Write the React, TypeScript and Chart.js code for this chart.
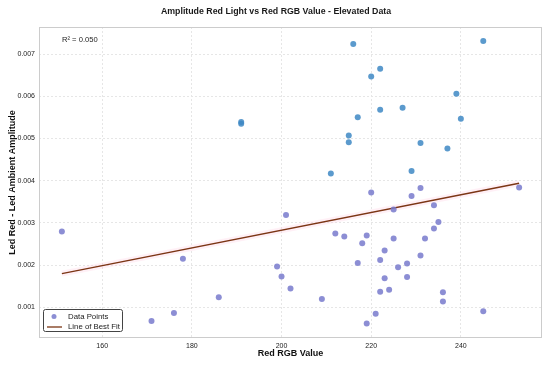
import React, { useEffect, useRef } from "react";
import { Chart, registerables } from "chart.js";

Chart.register(...registerables);

const redRGB: number[] = [
  151, 171, 176, 178, 186, 191, 191, 199, 200, 201, 202, 209, 211, 212, 214, 215, 215, 216, 217, 217,
  218, 219, 219, 220, 220, 221, 222, 222, 222, 222, 223, 223, 224, 225, 225, 226, 227, 228, 228, 229,
  229, 231, 231, 231, 232, 234, 234, 235, 236, 236, 237, 239, 240, 245, 245, 253,
];
const amplitude: number[] = [
  0.00280, 0.00068, 0.00087, 0.00215, 0.00124, 0.00535, 0.00539, 0.00197, 0.00173, 0.00319, 0.00145,
  0.00120, 0.00417, 0.00275, 0.00268, 0.00507, 0.00491, 0.00724, 0.00550, 0.00205, 0.00252, 0.00270,
  0.00062, 0.00647, 0.00372, 0.00085, 0.00665, 0.00568, 0.00212, 0.00137, 0.00235, 0.00169, 0.00142,
  0.00332, 0.00263, 0.00195, 0.00573, 0.00204, 0.00172, 0.00423, 0.00364, 0.00489, 0.00383, 0.00223,
  0.00263, 0.00342, 0.00287, 0.00302, 0.00136, 0.00114, 0.00476, 0.00606, 0.00547, 0.00731, 0.00091,
  0.00384,
];
const fitX: number[] = [151, 253];
const fitY: number[] = [0.0018, 0.00394];
const xTicks: number[] = [160, 180, 200, 220, 240];
const yTicks: number[] = [0.001, 0.002, 0.003, 0.004, 0.005, 0.006, 0.007];
const rSquaredText = "R² = 0.050";
const titleText = "Amplitude Red Light vs Red RGB Value - Elevated Data";

const BLUE = "rgba(62,136,196,0.85)";
const PURPLE = "rgba(120,122,204,0.85)";
const LINE = "#7b3514";

const FONT = "'Liberation Sans', Arial, sans-serif";

export default function App() {
  const ref = useRef<HTMLCanvasElement | null>(null);

  useEffect(() => {
    if (!ref.current) return;
    const pts = redRGB.map((x, i) => ({ x, y: amplitude[i] }));
    const colors = amplitude.map((v) => (v > 0.004 ? BLUE : PURPLE));
    const fit = fitX.map((x, i) => ({ x, y: fitY[i] }));

    const overlay = {
      id: "overlay",
      afterDraw(chart: any) {
        const ctx = chart.ctx;
        const ca = chart.chartArea;
        ctx.save();
        // title
        ctx.fillStyle = "#1a1a1a";
        ctx.font = `bold 8.8px ${FONT}`;
        ctx.textAlign = "center";
        ctx.textBaseline = "middle";
        ctx.fillText(titleText, 276, 12);
        // R^2
        ctx.font = `7.6px ${FONT}`;
        ctx.textAlign = "left";
        ctx.fillStyle = "#222";
        ctx.fillText(rSquaredText, 62, 40);
        // legend
        const lx = 43, ly = 309, lw = 79, lh = 22;
        ctx.fillStyle = "rgba(255,255,255,0.9)";
        ctx.strokeStyle = "#444";
        ctx.lineWidth = 1;
        ctx.beginPath();
        (ctx as any).roundRect(lx + 0.5, ly + 0.5, lw, lh, 2);
        ctx.fill();
        ctx.stroke();
        ctx.fillStyle = PURPLE;
        ctx.beginPath();
        ctx.arc(54, 316.5, 2.5, 0, Math.PI * 2);
        ctx.fill();
        ctx.strokeStyle = LINE;
        ctx.lineWidth = 1.3;
        ctx.beginPath();
        ctx.moveTo(47, 327);
        ctx.lineTo(62, 327);
        ctx.stroke();
        ctx.fillStyle = "#1a1a1a";
        ctx.font = `7.8px ${FONT}`;
        ctx.textBaseline = "middle";
        ctx.fillText("Data Points", 68, 316.5);
        ctx.fillText("Line of Best Fit", 68, 327);
        // frame
        ctx.strokeStyle = "#cccccc";
        ctx.lineWidth = 1;
        ctx.strokeRect(ca.left + 0.5, ca.top + 0.5, ca.right - ca.left - 1, ca.bottom - ca.top - 1);
        ctx.restore();
      },
    };

    const chart = new Chart(ref.current, {
      type: "scatter",
      data: {
        datasets: [
          {
            label: "Data Points",
            data: pts,
            backgroundColor: colors,
            borderColor: colors,
            pointRadius: 3,
            borderWidth: 0,
            order: 1,
          },
          {
            label: "halo",
            type: "line",
            data: fit,
            borderColor: "rgba(255,205,225,0.3)",
            borderWidth: 6,
            pointRadius: 0,
            order: 3,
          } as any,
          {
            label: "Line of Best Fit",
            type: "line",
            data: fit,
            borderColor: LINE,
            borderWidth: 1.4,
            pointRadius: 0,
            order: 2,
          } as any,
        ],
      },
      options: {
        animation: false,
        responsive: false,
        maintainAspectRatio: false,
        layout: { padding: { top: 27, right: 8, left: 7, bottom: 8 } },
        plugins: {
          legend: { display: false },
          title: { display: false },
          tooltip: { enabled: false },
        },
        scales: {
          x: {
            type: "linear",
            min: 145.9,
            max: 258.1,
            afterBuildTicks: (s: any) => {
              s.ticks = xTicks.map((v) => ({ value: v }));
            },
            afterFit: (s: any) => {
              s.height = 21;
            },
            grid: { color: "#e6e6e6", drawTicks: false },
            border: { display: false, dash: [2, 2] },
            ticks: {
              padding: 4,
              color: "#222",
              font: { family: FONT, size: 7 },
              callback: (v: any) => String(v),
            },
            title: {
              display: true,
              text: "Red RGB Value",
              color: "#111",
              font: { family: FONT, size: 9, weight: "bold" },
              padding: { top: 0, bottom: 0 },
            },
          },
          y: {
            type: "linear",
            min: 0.000275,
            max: 0.00764,
            afterBuildTicks: (s: any) => {
              s.ticks = yTicks.map((v) => ({ value: v }));
            },
            afterFit: (s: any) => {
              s.width = 32;
            },
            grid: { color: "#e6e6e6", drawTicks: false },
            border: { display: false, dash: [2, 2] },
            ticks: {
              padding: 4,
              color: "#222",
              font: { family: FONT, size: 7 },
              callback: (v: any) => Number(v).toFixed(3),
            },
            title: {
              display: true,
              text: "Led Red - Led Ambient Amplitude",
              color: "#111",
              font: { family: FONT, size: 9, weight: "bold" },
              padding: { top: 0, bottom: 0 },
            },
          },
        },
      } as any,
      plugins: [overlay],
    });
    return () => chart.destroy();
  }, []);

  return (
    <div style={{ position: "fixed", left: 0, top: 0, width: 550, height: 367, background: "#fff" }}>
      <canvas ref={ref} width={550} height={367} style={{ width: 550, height: 367 }} />
    </div>
  );
}
